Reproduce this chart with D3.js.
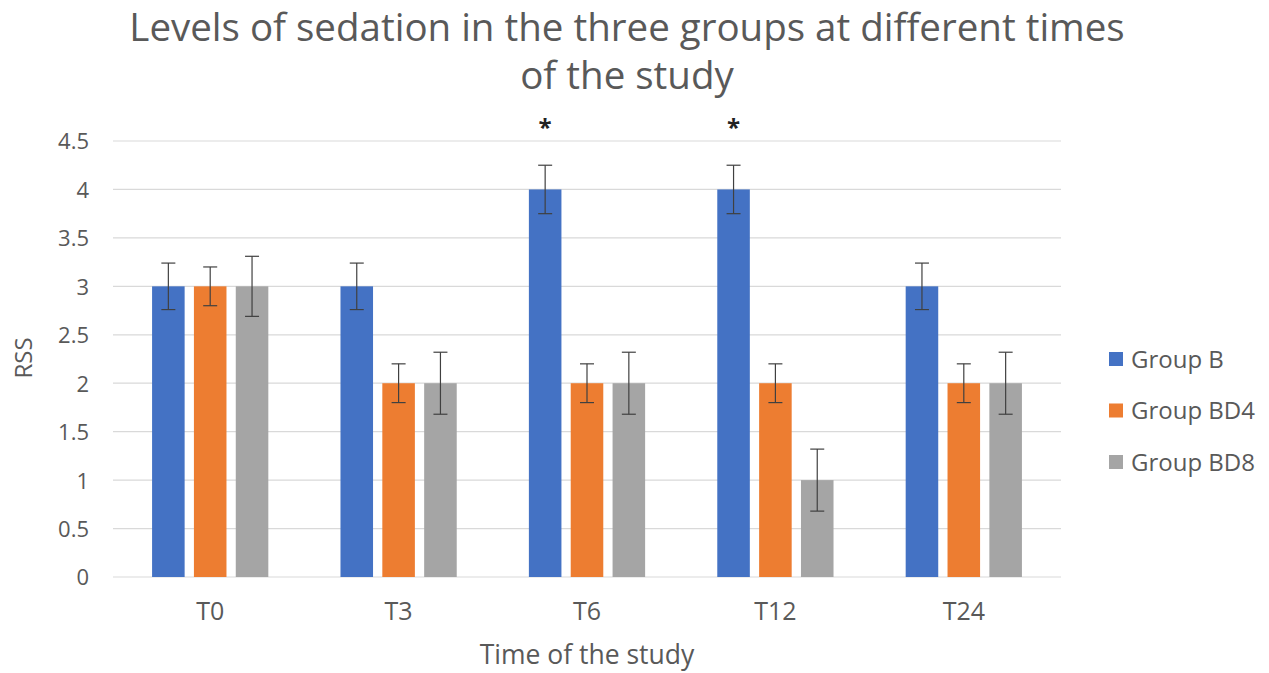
<!DOCTYPE html>
<html>
<head>
<meta charset="utf-8">
<script src="https://cdn.jsdelivr.net/npm/d3@7"></script>
<style>
  html, body { margin: 0; padding: 0; background: #fff; }
  svg { display: block; }
  text { font-family: "Open Sans", "Noto Sans", sans-serif; fill: #595959; }
</style>
</head>
<body>
<svg id="chart" width="1269" height="673"></svg>
<script>
const categories = ["T0", "T3", "T6", "T12", "T24"];
const seriesNames = ["Group B", "Group BD4", "Group BD8"];
const groupB   = [3, 3, 4, 4, 3];
const groupBD4 = [3, 2, 2, 2, 2];
const groupBD8 = [3, 2, 2, 1, 2];
const errB   = [0.24, 0.24, 0.25, 0.25, 0.24];
const errBD4 = [0.2, 0.2, 0.2, 0.2, 0.2];
const errBD8 = [0.31, 0.32, 0.32, 0.32, 0.32];
const significant = ["T6", "T12"];
const yTicks = [0, 0.5, 1, 1.5, 2, 2.5, 3, 3.5, 4, 4.5];
const colors = ["#4472C4", "#ED7D31", "#A5A5A5"];
const titleLines = ["Levels of sedation in the three groups at different times", "of the study"];

(function () {
const values = [groupB, groupBD4, groupBD8];
const errors = [errB, errBD4, errBD8];
const data = categories.map((c, i) => ({
  cat: c,
  bars: seriesNames.map((s, j) => ({ series: s, value: values[j][i], err: errors[j][i], color: colors[j] }))
}));

const svg = d3.select("#chart");
const pLeft = 116, pRight = 1058, pTop = 141, pBottom = 577;

const x0 = d3.scaleBand().domain(categories).range([pLeft, pRight])
  .paddingInner(0.383).paddingOuter(0.1915);
const x1 = d3.scaleBand().domain(seriesNames).range([0, x0.bandwidth()])
  .paddingInner(0.222).paddingOuter(0);
const y = d3.scaleLinear().domain([0, 4.5]).range([pBottom, pTop]);

// gridlines
svg.append("g").selectAll("line").data(yTicks).join("line")
  .attr("x1", pLeft - 3).attr("x2", pRight + 3)
  .attr("y1", d => y(d)).attr("y2", d => y(d))
  .attr("stroke", "#d9d9d9").attr("stroke-width", 1.2);

// y axis labels
const yAxis = d3.axisLeft(y).tickValues(yTicks).tickSize(0).tickPadding(0).tickFormat(d3.format("~g"));
const gy = svg.append("g").attr("transform", `translate(89,0)`).call(yAxis);
gy.select(".domain").remove();
gy.selectAll("text").style("font-size", "22px").style("font-family", "'Open Sans', sans-serif")
  .attr("fill", "#595959").attr("dy", "0.36em");

// x axis labels
const xAxis = d3.axisBottom(x0).tickSize(0).tickPadding(0);
const gx = svg.append("g").attr("transform", `translate(0,${pBottom + 43})`).call(xAxis);
gx.select(".domain").remove();
gx.selectAll("text").style("font-size", "25px").style("font-family", "'Open Sans', sans-serif")
  .attr("fill", "#595959").attr("dy", "0");

// bars
const groups = svg.append("g").selectAll("g").data(data).join("g")
  .attr("transform", d => `translate(${x0(d.cat)},0)`);
groups.selectAll("rect").data(d => d.bars).join("rect")
  .attr("x", d => x1(d.series)).attr("width", x1.bandwidth())
  .attr("y", d => y(d.value)).attr("height", d => y(0) - y(d.value))
  .attr("fill", d => d.color);

// error bars
const eb = groups.selectAll("g.eb").data(d => d.bars).join("g").attr("class", "eb")
  .attr("stroke", "#404040").attr("stroke-width", 1.2);
const cx = d => x1(d.series) + x1.bandwidth() / 2;
eb.append("line").attr("x1", cx).attr("x2", cx)
  .attr("y1", d => y(d.value + d.err)).attr("y2", d => y(d.value - d.err));
eb.append("line").attr("x1", d => cx(d) - 7).attr("x2", d => cx(d) + 7)
  .attr("y1", d => y(d.value + d.err)).attr("y2", d => y(d.value + d.err));
eb.append("line").attr("x1", d => cx(d) - 7).attr("x2", d => cx(d) + 7)
  .attr("y1", d => y(d.value - d.err)).attr("y2", d => y(d.value - d.err));

// asterisks
svg.append("g").selectAll("text").data(significant).join("text")
  .attr("x", d => x0(d) + x1(seriesNames[0]) + x1.bandwidth() / 2)
  .attr("y", 136)
  .attr("text-anchor", "middle")
  .style("font-size", "24px").style("font-weight", "bold").style("fill", "#222")
  .text("*");

// title
svg.append("g").selectAll("text").data(titleLines).join("text")
  .attr("x", 627).attr("y", (d, i) => 41 + i * 48)
  .attr("text-anchor", "middle")
  .style("font-size", "38.5px")
  .text(d => d);

// axis titles
svg.append("text").attr("transform", "translate(32,358) rotate(-90)")
  .attr("text-anchor", "middle").style("font-size", "24px").text("RSS");
svg.append("text").attr("x", 587).attr("y", 664)
  .attr("text-anchor", "middle").style("font-size", "26.5px").text("Time of the study");

// legend
const lg = svg.append("g").selectAll("g").data(seriesNames).join("g")
  .attr("transform", (d, i) => `translate(1109,${359 + i * 51.5})`);
lg.append("rect").attr("x", 0).attr("y", -7).attr("width", 14).attr("height", 14)
  .attr("fill", (d, i) => colors[i]);
lg.append("text").attr("x", 22).attr("y", 0).attr("dy", "0.36em")
  .style("font-size", "24px").text(d => d);
})();
</script>
</body>
</html>
